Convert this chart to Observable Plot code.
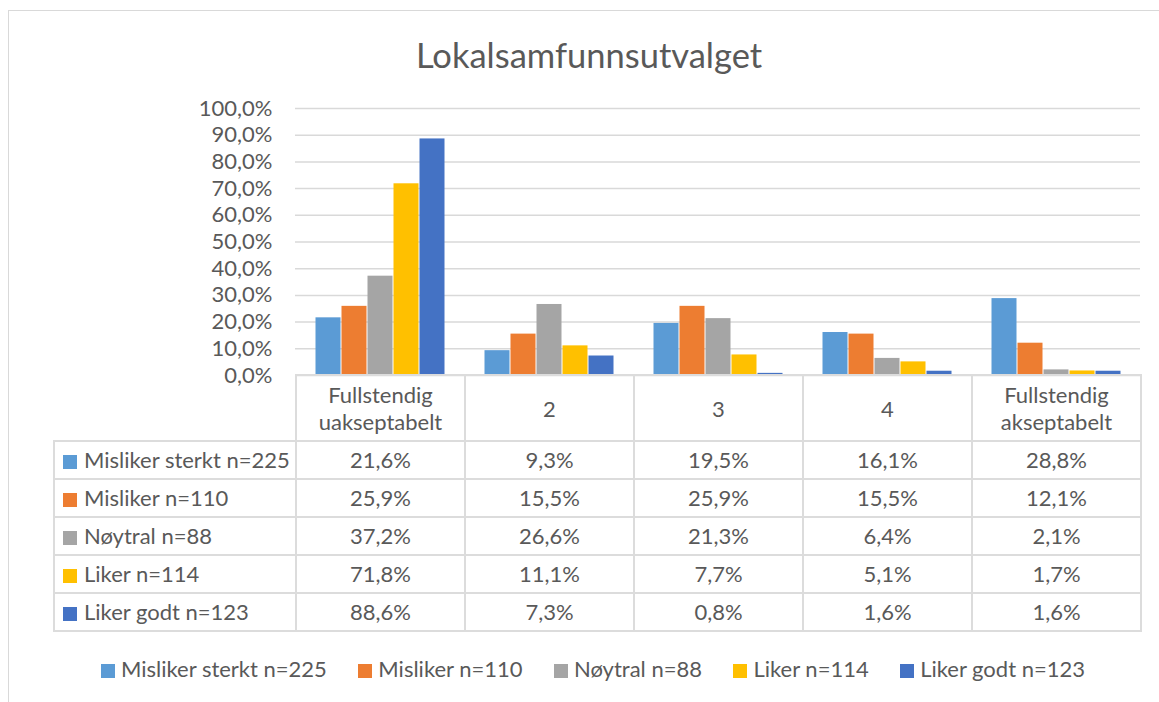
<!DOCTYPE html>
<html>
<head>
<meta charset="utf-8">
<script src="https://cdn.jsdelivr.net/npm/d3@7"></script>
<script src="https://cdn.jsdelivr.net/npm/@observablehq/plot@0.6"></script>
<style>
  html, body { margin: 0; padding: 0; overflow: hidden; background: #fff; }
  #wrap { position: relative; width: 1159px; height: 702px; font-family: Lato, sans-serif; color: #595959; }
  #frame { position: absolute; left: 8px; top: 10px; width: 1200px; height: 720px; border-top: 1px solid #d9d9d9; border-left: 1px solid #d9d9d9; }
  #title { position: absolute; left: 0; top: 33px; width: 1178px; text-align: center; font-size: 34.5px; line-height: 44px; }
  #chart { position: absolute; left: 0; top: 0; }
  #tbl { position: absolute; left: 53px; top: 374px; width: 1089px; border-collapse: collapse; table-layout: fixed; font-size: 22px; }
  #tbl td { border: 2px solid #dcdcdc; text-align: center; padding: 0; height: 36px; line-height: 26px; white-space: nowrap; overflow: visible; }
  #tbl td.hdr { height: 64px; white-space: normal; line-height: 27px; }
  #tbl td.corner { border-top: hidden; border-left: hidden; }
  #tbl td.lab { text-align: left; padding-left: 8px; }
  .sw { display: inline-block; width: 14px; height: 14px; margin-right: 7px; vertical-align: -1px; }
  #legend { position: absolute; left: 101px; top: 654px; width: 984px; display: flex; justify-content: space-between; font-size: 22px; line-height: 30px; white-space: nowrap; }
  #legend .sw { margin-right: 6px; }
</style>
</head>
<body>
<div id="wrap">
  <div id="frame"></div>
  <div id="title">Lokalsamfunnsutvalget</div>
  <div id="chart"></div>
  <table id="tbl"></table>
  <div id="legend"></div>
</div>
<script>
// ---- data ----
const categories = ["Fullstendig uakseptabelt", "2", "3", "4", "Fullstendig akseptabelt"];
const series = ["Misliker sterkt n=225", "Misliker n=110", "Nøytral n=88", "Liker n=114", "Liker godt n=123"];
const colors = ["#5B9BD5", "#ED7D31", "#A5A5A5", "#FFC000", "#4472C4"];
const mislikerSterkt = [21.6, 9.3, 19.5, 16.1, 28.8];
const misliker = [25.9, 15.5, 25.9, 15.5, 12.1];
const noytral = [37.2, 26.6, 21.3, 6.4, 2.1];
const liker = [71.8, 11.1, 7.7, 5.1, 1.7];
const likerGodt = [88.6, 7.3, 0.8, 1.6, 1.6];
const yTicks = [0, 10, 20, 30, 40, 50, 60, 70, 80, 90, 100];

const seriesValues = [mislikerSterkt, misliker, noytral, liker, likerGodt];
const rows = [];
series.forEach((s, i) => categories.forEach((c, j) => rows.push({series: s, category: c, value: seriesValues[i][j]})));
const fmt = d => d.toFixed(1).replace(".", ",") + "%";

// ---- chart ----
const chart = Plot.plot({
  width: 1159,
  height: 392,
  marginTop: 108,
  marginBottom: 17,
  marginLeft: 295,
  marginRight: 19,
  style: {fontFamily: "Lato, sans-serif", fontSize: "22px", color: "#595959", background: "transparent"},
  fx: {domain: categories, padding: 0, axis: null},
  x: {domain: series, paddingInner: 0, paddingOuter: 0.75, axis: null},
  y: {domain: [0, 100], axis: null},
  color: {domain: series, range: colors},
  marks: [
    Plot.ruleY(yTicks, {stroke: "#d9d9d9", strokeWidth: 1.5}),
    Plot.barY(rows, {fx: "category", x: "series", y: "value", fill: "series", insetLeft: 0.5, insetRight: 0.5}),
    Plot.axisY({ticks: yTicks, tickFormat: fmt, tickSize: 0, tickPadding: 23, facetAnchor: "left", fontSize: 22, label: null})
  ]
});
document.getElementById("chart").appendChild(chart);

// ---- data table ----
const tbl = document.getElementById("tbl");
const colgroup = document.createElement("colgroup");
[242, 169, 169, 169, 169, 169].forEach(w => { const c = document.createElement("col"); c.style.width = w + "px"; colgroup.appendChild(c); });
tbl.appendChild(colgroup);
const hr = document.createElement("tr");
const corner = document.createElement("td"); corner.className = "hdr corner"; hr.appendChild(corner);
categories.forEach(c => { const td = document.createElement("td"); td.className = "hdr"; td.textContent = c; hr.appendChild(td); });
tbl.appendChild(hr);
series.forEach((s, i) => {
  const tr = document.createElement("tr");
  const lab = document.createElement("td"); lab.className = "lab";
  lab.innerHTML = `<span class="sw" style="background:${colors[i]}"></span>${s}`;
  tr.appendChild(lab);
  seriesValues[i].forEach(v => { const td = document.createElement("td"); td.textContent = fmt(v); tr.appendChild(td); });
  tbl.appendChild(tr);
});

// ---- legend ----
const legend = document.getElementById("legend");
series.forEach((s, i) => {
  const it = document.createElement("div");
  it.innerHTML = `<span class="sw" style="background:${colors[i]}"></span>${s}`;
  legend.appendChild(it);
});
</script>
</body>
</html>
